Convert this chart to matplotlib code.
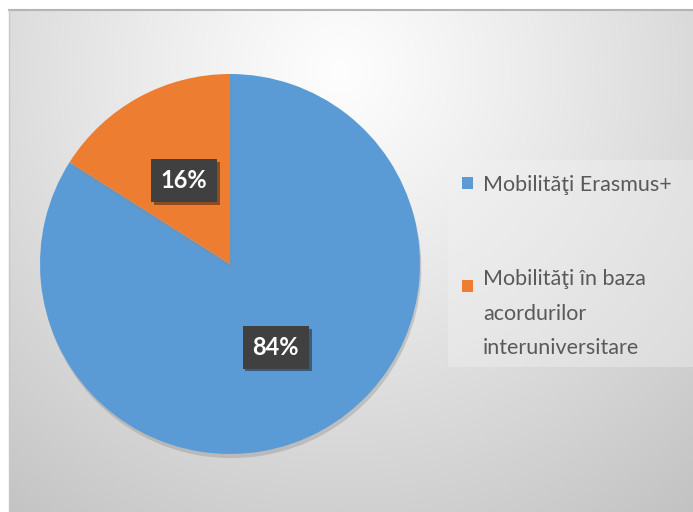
import numpy as np
import matplotlib.pyplot as plt
import matplotlib.patheffects as pe
from matplotlib.patches import Rectangle

plt.rcParams['font.family'] = ['Lato', 'DejaVu Sans']

# data
labels = ["Mobilităţi Erasmus+", "Mobilităţi în baza\nacordurilor\ninteruniversitare"]
values = [84, 16]
colors = ["#5B9BD5", "#ED7D31"]

W, H = 693, 512
fig = plt.figure(figsize=(W / 100, H / 100), dpi=100)
ax = fig.add_axes([0, 0, 1, 1])

# background panel with radial gradient
x0, x1, y0, y1 = 9, W, 0, H - 10
xx, yy = np.meshgrid(np.linspace(x0, x1, 300), np.linspace(y1, y0, 220))
d = np.hypot(xx - 340, yy - (H - 70)) / 560
shade = np.clip(0.995 - 0.23 * d ** 1.1, 0.74, 1)
ax.imshow(np.dstack([shade] * 3), extent=(x0, x1, y0, y1), origin='upper',
          aspect='auto', zorder=0, interpolation='bicubic')
ax.plot([x0, x1], [y1, y1], color='#b4b4b4', lw=1.5, zorder=1)
ax.plot([x0, x0], [y0, y1], color='#c8c8c8', lw=1, zorder=1)

# pie
cx, cy, r = 230, H - 264, 190
wedges, texts, autotexts = ax.pie(
    values, colors=colors, startangle=90, counterclock=False,
    center=(cx, cy), radius=r, autopct='%1.0f%%', pctdistance=0.5,
    wedgeprops=dict(linewidth=0), frame=True,
    textprops=dict(color='white', fontsize=17, fontweight='bold'))
ax.set_xlim(0, W)
ax.set_ylim(0, H)
ax.axis('off')
for w in wedges:
    w.set_zorder(3)
    w.set_path_effects([pe.SimplePatchShadow(offset=(1, -3), shadow_rgbFace='#888888', alpha=0.35),
                        pe.Normal()])
for t in autotexts:
    t.set_zorder(5)
    t.set_bbox(dict(boxstyle='square,pad=0.42', facecolor='#404040', edgecolor='none'))
    t.get_bbox_patch().set_path_effects([
        pe.SimplePatchShadow(offset=(2, -2), shadow_rgbFace='black', alpha=0.4), pe.Normal()])

# legend
ax.add_patch(Rectangle((448, H - 367), 245, 207, facecolor='#f2f2f2', alpha=0.4,
                       edgecolor='none', zorder=2))
leg_y = [H - 191, H - 294]
for lab, col, ly in zip(labels, colors, leg_y):
    n = lab.count('\n')
    ax.add_patch(Rectangle((462, ly + 2), 11, 12, facecolor=col, edgecolor='none', zorder=4))
    ax.text(483, ly - 30 * n, lab, fontsize=15.5, color='#595959', va='baseline', ha='left',
            linespacing=1.9, zorder=4)

fig.savefig('out.png', dpi=100)
